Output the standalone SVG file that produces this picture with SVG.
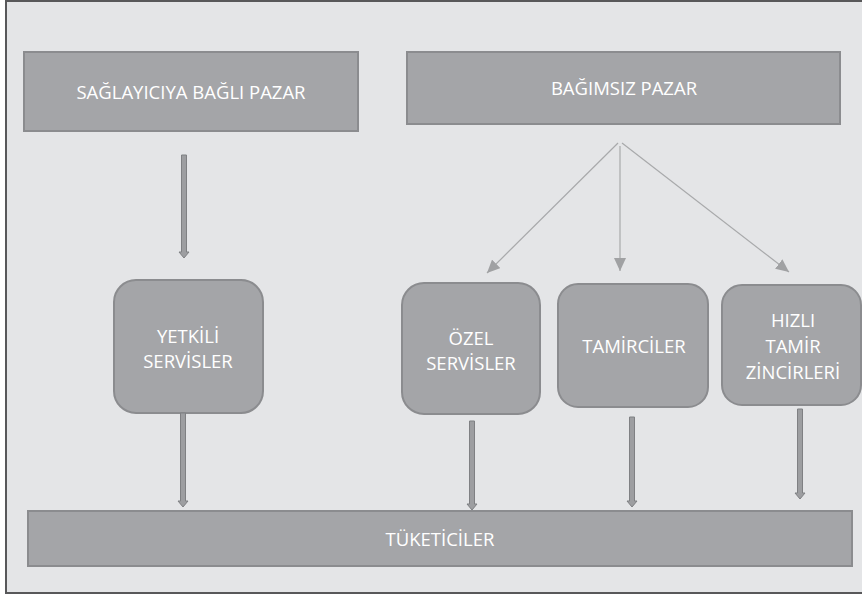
<svg xmlns="http://www.w3.org/2000/svg" width="862" height="596" viewBox="0 0 862 596">
  <defs>
    <style>
      .frame { fill: #e4e5e7; stroke: #58585a; stroke-width: 2; }
      .box { fill: #a4a5a8; stroke: #8b8c8f; stroke-width: 2; }
      .lbl { font-family: "Open Sans", "Liberation Sans", sans-serif; font-size: 18.5px; fill: #ffffff; text-anchor: middle; }
      .thick { fill: #9d9ea1; stroke: #7f8083; stroke-width: 1; }
      .thin { stroke: #a8a9ab; stroke-width: 1.2; fill: none; marker-end: url(#head); }
    </style>
    <marker id="head" markerUnits="userSpaceOnUse" markerWidth="13" markerHeight="12" refX="13" refY="6" orient="auto">
      <path d="M0,0 L13,6 L0,12 z" fill="#a0a1a3"/>
    </marker>
  </defs>

  <rect class="frame" x="6" y="1" width="862" height="592"/>

  <g id="saglayiciya-bagli-pazar">
    <rect class="box" x="24" y="52" width="334" height="79"/>
    <text class="lbl" x="191" y="99">SAĞLAYICIYA BAĞLI PAZAR</text>
  </g>

  <g id="bagimsiz-pazar">
    <rect class="box" x="407" y="52" width="433" height="72"/>
    <text class="lbl" x="624" y="95">BAĞIMSIZ PAZAR</text>
  </g>

  <g id="yetkili-servisler">
    <rect class="box" x="114" y="280" width="149" height="133" rx="22"/>
    <text class="lbl" x="188" y="343">YETKİLİ</text>
    <text class="lbl" x="188" y="368">SERVİSLER</text>
  </g>

  <g id="ozel-servisler">
    <rect class="box" x="402" y="283" width="138" height="131" rx="22"/>
    <text class="lbl" x="471" y="345">ÖZEL</text>
    <text class="lbl" x="471" y="370">SERVİSLER</text>
  </g>

  <g id="tamirciler">
    <rect class="box" x="558" y="284" width="150" height="123" rx="20"/>
    <text class="lbl" x="634" y="353">TAMİRCİLER</text>
  </g>

  <g id="hizli-tamir-zincirleri">
    <rect class="box" x="722" y="285" width="139" height="120" rx="20"/>
    <text class="lbl" x="793" y="327">HIZLI</text>
    <text class="lbl" x="793" y="353">TAMİR</text>
    <text class="lbl" x="793" y="379">ZİNCİRLERİ</text>
  </g>

  <g id="tuketiciler">
    <rect class="box" x="28" y="511" width="824" height="55"/>
    <text class="lbl" x="440" y="546">TÜKETİCİLER</text>
  </g>

  <g id="connectors">
    <polygon class="thick" points="181.5,155 186.5,155 186.5,252 189,252 184,258 179,252 181.5,252"/>
    <polygon class="thick" points="180.5,413 185.5,413 185.5,501 188,501 183,507 178,501 180.5,501"/>
    <polygon class="thick" points="469.5,421 474.5,421 474.5,504 477,504 472,510 467,504 469.5,504"/>
    <polygon class="thick" points="629.5,417 634.5,417 634.5,501 637,501 632,507 627,501 629.5,501"/>
    <polygon class="thick" points="797.5,409 802.5,409 802.5,493 805,493 800,499 795,493 797.5,493"/>
    <line class="thin" x1="618" y1="143" x2="487" y2="273"/>
    <line class="thin" x1="620" y1="146" x2="620" y2="271"/>
    <line class="thin" x1="622" y1="143" x2="789" y2="272"/>
  </g>
</svg>
